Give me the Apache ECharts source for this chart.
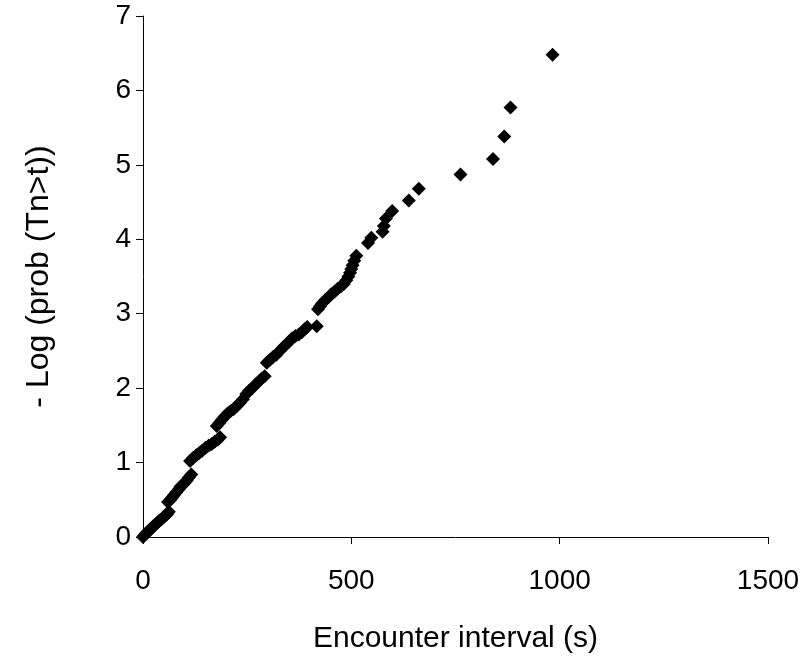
<!DOCTYPE html>
<html>
<head>
<meta charset="utf-8">
<script src="https://cdn.jsdelivr.net/npm/echarts@6/dist/echarts.min.js"></script>
<style>
  html, body { margin: 0; padding: 0; background: #fff; }
  #chart { width: 808px; height: 663px; }
</style>
</head>
<body>
<div id="chart"></div>
<script>
// encounter interval (s)
const intervals = [
  0, 3, 6, 9, 12, 15, 18, 21, 24, 27, 30, 34, 38, 42, 46, 50, 54, 58, 62,
  60, 66, 70, 74, 80, 86, 90, 95, 100, 105, 110, 116,
  113, 120, 128, 135, 142, 150, 158, 165, 172, 180, 185,
  177, 183, 190, 196, 203, 210, 218, 225, 232, 240, 248, 255, 262, 270, 278, 285, 292,
  297, 305, 312, 320, 328, 335, 342, 350, 358, 366, 374, 381, 388, 394,
  417,
  420, 425, 430, 437, 445, 452, 460, 468, 475, 482, 488, 493, 497, 500, 503, 507, 512,
  540, 548, 575, 578, 583, 598, 638, 662, 762, 840, 867, 882, 983
];
// - log(prob(Tn > t))
const logProb = [
  0, 0.02, 0.04, 0.06, 0.07, 0.09, 0.1, 0.12, 0.14, 0.15, 0.17, 0.19, 0.21, 0.23, 0.25, 0.27, 0.29, 0.31, 0.34,
  0.47, 0.5, 0.53, 0.56, 0.6, 0.64, 0.68, 0.7, 0.73, 0.76, 0.8, 0.84,
  1.02, 1.06, 1.1, 1.13, 1.16, 1.2, 1.23, 1.25, 1.28, 1.31, 1.34,
  1.49, 1.53, 1.58, 1.62, 1.66, 1.69, 1.72, 1.76, 1.8, 1.85, 1.92, 1.97, 2.0, 2.05, 2.09, 2.13, 2.16,
  2.34, 2.38, 2.42, 2.45, 2.5, 2.54, 2.58, 2.62, 2.67, 2.7, 2.72, 2.75, 2.79, 2.82,
  2.83,
  3.06, 3.1, 3.14, 3.18, 3.22, 3.26, 3.3, 3.34, 3.37, 3.4, 3.45, 3.5, 3.55, 3.6, 3.65, 3.71, 3.78,
  3.95, 4.02, 4.1, 4.18, 4.28, 4.38, 4.52, 4.68, 4.87, 5.08, 5.38, 5.77, 6.48
];
const xTicks = [0, 500, 1000, 1500];

const font = "'Liberation Sans', Arial, sans-serif";
const points = intervals.map((t, i) => [t, logProb[i]]);

const chart = echarts.init(document.getElementById("chart"));
chart.setOption({
  animation: false,
  grid: { left: 143, right: 40, top: 16, bottom: 126 },
  xAxis: {
    type: "value",
    min: xTicks[0],
    max: xTicks[xTicks.length - 1],
    interval: 500,
    name: "Encounter interval (s)",
    nameLocation: "middle",
    nameGap: 87,
    nameTextStyle: { fontFamily: font, fontSize: 30, color: "#000" },
    axisLine: { show: true, onZero: false, lineStyle: { color: "#000", width: 1 } },
    axisTick: { show: true, length: 7, lineStyle: { color: "#000" } },
    axisLabel: {
      fontFamily: font, fontSize: 28, color: "#000", margin: 30,
      formatter: (v) => String(v),
    },
    splitLine: { show: false },
  },
  yAxis: {
    type: "value",
    min: 0,
    max: 7,
    interval: 1,
    name: "- Log (prob (Tn>t))",
    nameLocation: "middle",
    nameGap: 88,
    nameRotate: 90,
    nameTextStyle: { fontFamily: font, fontSize: 32, color: "#000" },
    axisLine: { show: true, onZero: false, lineStyle: { color: "#000", width: 1 } },
    axisTick: { show: true, length: 7, lineStyle: { color: "#000" } },
    axisLabel: { fontFamily: font, fontSize: 28, color: "#000", margin: 12 },
    splitLine: { show: false },
  },
  series: [
    {
      type: "scatter",
      data: points,
      symbol: "diamond",
      symbolSize: 14,
      itemStyle: { color: "#000", opacity: 1 },
    },
  ],
});
</script>
</body>
</html>
